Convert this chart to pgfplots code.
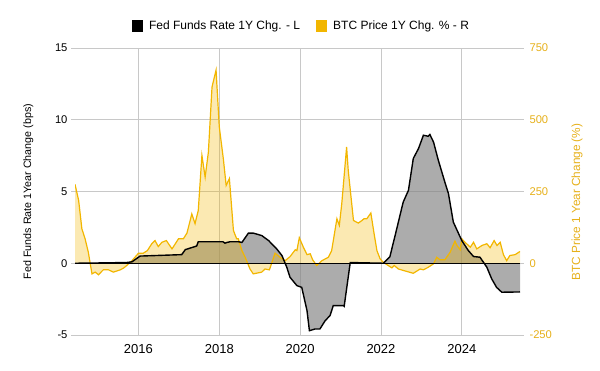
\documentclass[border=0pt]{standalone}
\usepackage{fontspec}
\setmainfont{Liberation Sans}
\usepackage{pgfplots}
\pgfplotsset{compat=1.18}
\usepackage{pgfplotstable}
\definecolor{gold}{HTML}{F2B600}
\definecolor{goldtxt}{HTML}{E6B01A}
\definecolor{gridgray}{HTML}{C8C8C8}

\pgfplotstableread{
x y
2014.43 0
2015.00 0.02
2015.71 0.05
2015.84 0.1
2016.04 0.5
2017.07 0.6
2017.16 0.95
2017.44 1.2
2017.48 1.5
2018.09 1.5
2018.14 1.4
2018.19 1.45
2018.27 1.5
2018.47 1.5
2018.56 1.45
2018.72 2.1
2018.84 2.1
2019.05 1.93
2019.22 1.58
2019.42 1.0
2019.55 0.54
2019.67 -0.28
2019.75 -0.98
2019.92 -1.56
2020.04 -1.68
2020.17 -3.3
2020.23 -4.7
2020.37 -4.58
2020.49 -4.58
2020.62 -4.0
2020.74 -3.65
2020.82 -2.95
2021.07 -2.95
2021.09 -3.0
2021.24 0.05
2022.06 0
2022.22 0.45
2022.35 1.93
2022.55 4.26
2022.68 5.08
2022.80 7.3
2022.93 8.0
2023.05 8.92
2023.17 8.85
2023.21 8.97
2023.30 8.45
2023.42 7.17
2023.58 5.66
2023.67 4.85
2023.79 2.87
2024.00 1.58
2024.16 0.89
2024.29 0.47
2024.45 0.42
2024.62 -0.28
2024.74 -1.09
2024.86 -1.68
2024.99 -2.02
2025.44 -2.0
}\fed

\pgfplotstableread{
x y
2014.43 275
2014.52 219
2014.60 120
2014.68 85
2014.76 38
2014.85 -37
2014.93 -31
2015.01 -40
2015.13 -23
2015.26 -23
2015.38 -31
2015.55 -23
2015.63 -17
2015.71 -8
2015.84 9
2016.00 35
2016.12 35
2016.22 44
2016.33 68
2016.41 79
2016.49 58
2016.58 73
2016.69 79
2016.83 50
2016.99 85
2017.11 85
2017.20 105
2017.32 172
2017.40 138
2017.48 184
2017.57 376
2017.65 300
2017.73 387
2017.82 614
2017.92 673
2018.00 475
2018.10 364
2018.17 271
2018.25 295
2018.35 114
2018.43 85
2018.47 85
2018.56 44
2018.64 21
2018.76 -20
2018.84 -37
2019.05 -31
2019.13 -20
2019.24 -23
2019.38 35
2019.50 21
2019.63 9
2019.75 23
2019.88 47
2019.92 44
2019.98 89
2020.08 56
2020.17 30
2020.25 33
2020.31 12
2020.41 -8
2020.54 9
2020.70 21
2020.78 44
2020.91 155
2020.97 132
2021.03 207
2021.15 405
2021.19 324
2021.32 149
2021.44 140
2021.53 149
2021.58 155
2021.65 155
2021.75 175
2021.83 103
2021.90 44
2021.98 15
2022.06 3
2022.18 -8
2022.27 -16
2022.33 -8
2022.43 -20
2022.55 -25
2022.80 -35
2022.97 -20
2023.05 -23
2023.17 -14
2023.30 -2
2023.38 21
2023.46 12
2023.58 12
2023.71 38
2023.83 77
2023.88 62
2023.96 47
2024.00 85
2024.08 73
2024.21 56
2024.29 73
2024.37 50
2024.50 62
2024.62 68
2024.70 54
2024.80 79
2024.87 62
2024.95 73
2025.03 30
2025.11 9
2025.19 27
2025.32 30
2025.44 41
}\btc

\pgfplotsset{
  base/.style={
    width=445pt, height=287pt, scale only axis,
    xmin=2014.43, xmax=2025.44,
    axis line style={draw=none},
    tick align=outside,
    major tick length=4pt,
    xtick style={draw=none},
    ytick style={draw=gridgray, line width=0.6pt},
    yticklabel style={font=\fontsize{11.2}{13}\selectfont},
    xticklabel style={font=\fontsize{13}{15}\selectfont, yshift=-2pt},
    /pgf/number format/assume math mode=true,
  }
}

\begin{document}
\begin{tikzpicture}
\begin{axis}[base, name=main,
  ymin=-5, ymax=15,
  xtick={2016,2018,2020,2022,2024},
  ytick={-5,0,5,10,15},
  xticklabel style={/pgf/number format/1000 sep={}},
  grid=major,
  major grid style={draw=gridgray, line width=0.6pt},
  ylabel={Fed Funds Rate 1Year Change (bps)},
  ylabel style={at={(axis description cs:-0.105,0.5)}, anchor=center, font=\fontsize{10.7}{13}\selectfont},
  legend style={at={(axis description cs:0.509,1.077)}, anchor=center,
    draw=none, fill=none, legend columns=2,
    font=\fontsize{12}{14}\selectfont,
    /tikz/every odd column/.append style={column sep=4pt},
    /tikz/every even column/.append style={column sep=14pt}},
  legend cell align=left,
  legend image code/.code={\fill[#1, draw=none] (0pt,-6pt) rectangle (11pt,6pt);},
]
\addlegendimage{fill=black, draw=none}
\addlegendentry{Fed Funds Rate 1Y Chg. - L}
\addlegendimage{fill=gold, draw=none}
\addlegendentry{BTC Price 1Y Chg. \% - R}
\addplot[forget plot, draw=none, fill=gray, fill opacity=0.65] table[x=x,y=y] {\fed} \closedcycle;
\end{axis}

\begin{axis}[base,
  ymin=-250, ymax=750,
  axis y line*=right, axis x line=none,
  ytick={-250,0,250,500,750},
  yticklabel style={text=goldtxt, xshift=2pt},
  ylabel={BTC Price 1 Year Change (\%)},
  ylabel style={at={(axis description cs:1.128,0.463)}, anchor=center, text=goldtxt, font=\fontsize{11.8}{14}\selectfont},
]
\addplot[draw=none, fill=gold, fill opacity=0.3] table[x=x,y=y] {\btc} \closedcycle;
\addplot[gold, line width=1.2pt] table[x=x,y=y] {\btc};
\end{axis}

\begin{axis}[base, hide axis, ymin=-5, ymax=15]
\addplot[black, line width=1.2pt] coordinates {(2014.43,0) (2025.44,0)};
\addplot[black, line width=1.4pt] table[x=x,y=y] {\fed};
\end{axis}

\path ([xshift=-75pt,yshift=-36pt]main.south west) rectangle ([xshift=80pt,yshift=48pt]main.north east);
\end{tikzpicture}
\end{document}
